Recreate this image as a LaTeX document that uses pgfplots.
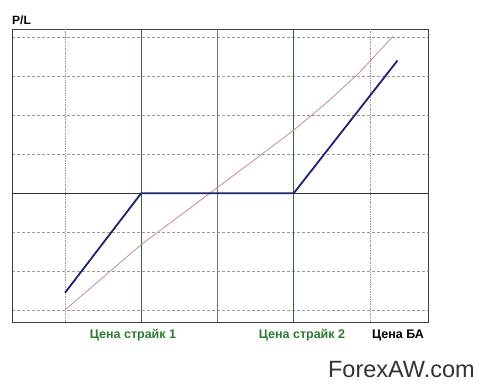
\documentclass[border=0pt]{standalone}
\usepackage{pgfplots}
\pgfplotsset{compat=1.18}
\usepackage{fontspec}
\setmainfont{Liberation Sans}
\definecolor{navyline}{HTML}{1C2270}
\definecolor{pinkline}{HTML}{C48C9E}
\definecolor{strikegreen}{HTML}{2E6B2E}
\definecolor{gridgray}{HTML}{9A9A9A}
\definecolor{labgreen}{HTML}{2F7A34}
\begin{document}
\begin{tikzpicture}[x=1pt,y=1pt]
\path[use as bounding box, fill=white] (0,0) rectangle (480,391);
\begin{axis}[
  at={(12pt,69pt)}, anchor=south west,
  scale only axis, width=416pt, height=293pt,
  xmin=0.305, xmax=5.76, ymin=-3.31, ymax=4.22,
  axis line style={draw=black!75, line width=0.9pt},
  xtick=\empty, ytick={-3,-2,-1,1,2,3,4},
  yticklabels={}, major tick length=0pt,
  ymajorgrids, major grid style={gridgray, densely dashed, line width=0.6pt},
  clip=true,
]
\draw[gridgray, densely dotted, line width=0.7pt] (axis cs:1,-3.31) -- (axis cs:1,4.22);
\draw[gridgray, densely dotted, line width=0.7pt] (axis cs:5,-3.31) -- (axis cs:5,4.22);
\draw[black!55, line width=1pt] (axis cs:3,-3.31) -- (axis cs:3,4.22);
\draw[strikegreen, line width=1pt] (axis cs:2,-3.31) -- (axis cs:2,4.22);
\draw[strikegreen, line width=1pt] (axis cs:4,-3.31) -- (axis cs:4,4.22);
\draw[black!80, line width=1pt] (axis cs:0.305,0) -- (axis cs:5.76,0);
\addplot[pinkline, line width=0.8pt] coordinates {(1,-3.0) (2,-1.32) (2.9,0) (4,1.62) (4.45,2.36) (4.85,3.08) (5.3,4.03)};
\addplot[navyline, line width=1.8pt] coordinates {(1,-2.56) (2,0) (4,0) (5.36,3.41)};
\end{axis}
\node[anchor=base west, font=\fontsize{12}{14}\selectfont\bfseries, inner sep=0pt] at (12,366) {P/L};
\node[font=\fontsize{12.5}{14}\selectfont\bfseries, text=labgreen, inner sep=0pt] at (133,56) {Цена страйк 1};
\node[font=\fontsize{12.5}{14}\selectfont\bfseries, text=labgreen, inner sep=0pt] at (302,56) {Цена страйк 2};
\node[font=\fontsize{12.5}{14}\selectfont\bfseries, text=black, inner sep=0pt] at (398,56) {Цена БА};
\node[anchor=base east, font=\fontsize{23.5}{27}\selectfont, text=black!80, inner sep=0pt] at (475,13) {ForexAW.com};
\end{tikzpicture}
\end{document}
